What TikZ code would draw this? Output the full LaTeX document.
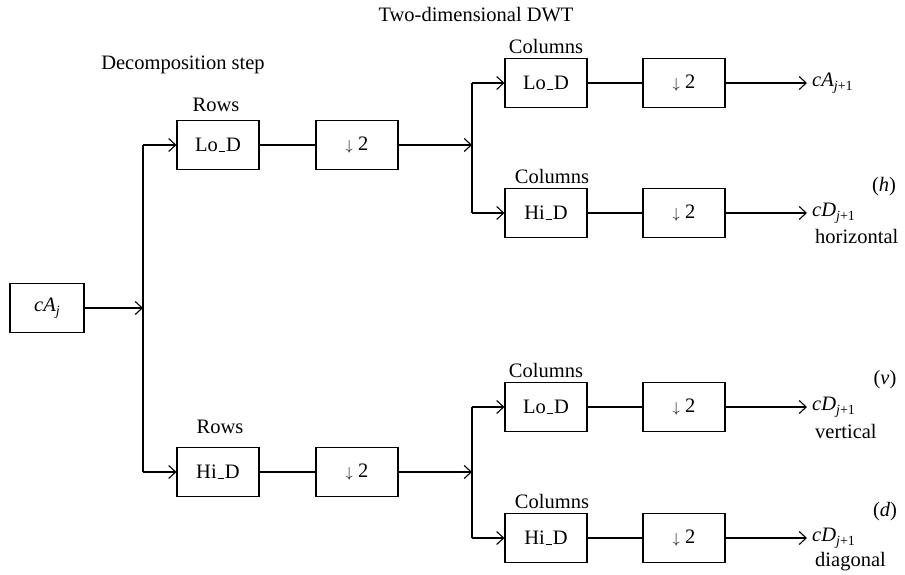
\documentclass[tikz,border=0pt]{standalone}
\usepackage{fontspec}
\setmainfont{Liberation Serif}
\usetikzlibrary{arrows.meta}
\newcommand\mysub[1]{\raisebox{-0.4ex}{\fontsize{14}{16}\selectfont #1}}
\newcommand\dtwo{{\fontsize{15}{15}\selectfont$\downarrow$}\ 2}
\newcommand\us{\kern.04em\rule{0.32em}{1.1pt}\kern.04em}
\begin{document}
\begin{tikzpicture}[x=1pt,y=-1pt,
  every node/.style={font=\fontsize{20.5}{24}\selectfont},
  blk/.style={draw,line width=1.1pt,minimum width=82pt,minimum height=49pt,inner sep=0pt},
  wire/.style={line width=1.1pt},
  fat/.style={line width=1.8pt},
  arr/.style={line width=1.1pt,-{Straight Barb[length=7pt,width=13pt,line width=1.1pt]}},
  lbl/.style={inner sep=0pt}]
\useasboundingbox (0,0) rectangle (905,575);

% titles
\node[lbl] (t1) at (476,15) {Two-dimensional DWT};
\node[lbl] (t2) at (183,65) {Decomposition step};

% input
\node[blk,minimum width=74pt] (in) at (47,308) {\textit{cA}\mysub{\textit{j}}};
\coordinate (v1top) at (143,145);
\coordinate (v1bot) at (143,472);
\coordinate (v1mid) at (143,308);
\draw[wire] (v1top) -- (v1bot);
\draw[arr] (in.east) -- (v1mid);

% rows
\node[blk] (rlo) at (218,145) {Lo\us D};
\node[blk] (rd1) at (357,145) {\dtwo};
\node[blk] (rhi) at (218,472) {Hi\us D};
\node[blk] (rd2) at (357,472) {\dtwo};
\node[lbl] (rowsA) at (216,105) {Rows};
\node[lbl] (rowsB) at (220,427) {Rows};
\draw[arr] (v1top) -- (rlo.west);
\draw[arr] (v1bot) -- (rhi.west);
\draw[wire] (rlo.east) -- (rd1.west);
\draw[fat] (rlo.east) -- ++(28,0);
\draw[wire] (rhi.east) -- (rd2.west);
\draw[fat] (rhi.east) -- ++(28,0);

% column groups
\coordinate (v2top) at (472,83);
\coordinate (v2bot) at (472,213);
\coordinate (v2mid) at (472,145);
\coordinate (v3top) at (472,407);
\coordinate (v3bot) at (472,538);
\coordinate (v3mid) at (472,472);
\draw[wire] (v2top) -- (v2bot);
\draw[wire] (v3top) -- (v3bot);
\draw[arr] (rd1.east) -- (v2mid);
\draw[arr] (rd2.east) -- (v3mid);

\node[blk] (c1) at (546,83) {Lo\us D};
\node[blk] (d1) at (684,83) {\dtwo};
\node[blk] (c2) at (546,213) {Hi\us D};
\node[blk] (d2) at (684,213) {\dtwo};
\node[blk] (c3) at (546,407) {Lo\us D};
\node[blk] (d3) at (684,407) {\dtwo};
\node[blk] (c4) at (546,538) {Hi\us D};
\node[blk] (d4) at (684,538) {\dtwo};

\node[lbl] (col1) at (546,46) {Columns};
\node[lbl] (col2) at (552,176) {Columns};
\node[lbl] (col3) at (546,370) {Columns};
\node[lbl] (col4) at (552,501) {Columns};

\draw[arr] (v2top) -- (c1.west);
\draw[arr] (v2bot) -- (c2.west);
\draw[arr] (v3top) -- (c3.west);
\draw[arr] (v3bot) -- (c4.west);

\draw[wire] (c1.east) -- (d1.west); \draw[fat] (c1.east) -- ++(28,0);
\draw[wire] (c2.east) -- (d2.west); \draw[fat] (c2.east) -- ++(28,0);
\draw[wire] (c3.east) -- (d3.west); \draw[fat] (c3.east) -- ++(28,0);
\draw[wire] (c4.east) -- (d4.west); \draw[fat] (c4.east) -- ++(28,0);

% outputs
\node[lbl,anchor=west] (o1) at (812,83) {\textit{cA}\mysub{\textit{j}+1}};
\node[lbl,anchor=west] (o2) at (812,213) {\textit{cD}\mysub{\textit{j}+1}};
\node[lbl,anchor=west] (o3) at (812,407) {\textit{cD}\mysub{\textit{j}+1}};
\node[lbl,anchor=west] (o4) at (812,538) {\textit{cD}\mysub{\textit{j}+1}};
\draw[arr,shorten >=5pt] (d1.east) -- (o1.west);
\draw[arr,shorten >=5pt] (d2.east) -- (o2.west);
\draw[arr,shorten >=5pt] (d3.east) -- (o3.west);
\draw[arr,shorten >=5pt] (d4.east) -- (o4.west);

\node[lbl,anchor=west] (n2) at (815,236) {horizontal};
\node[lbl,anchor=west] (n3) at (815,431) {vertical};
\node[lbl,anchor=west] (n4) at (815,562) {diagonal};
\node[lbl] (p2) at (884,187) {(\textit{h})};
\node[lbl] (p3) at (885,380) {(\textit{v})};
\node[lbl] (p4) at (885,512) {(\textit{d})};
\end{tikzpicture}
\end{document}
